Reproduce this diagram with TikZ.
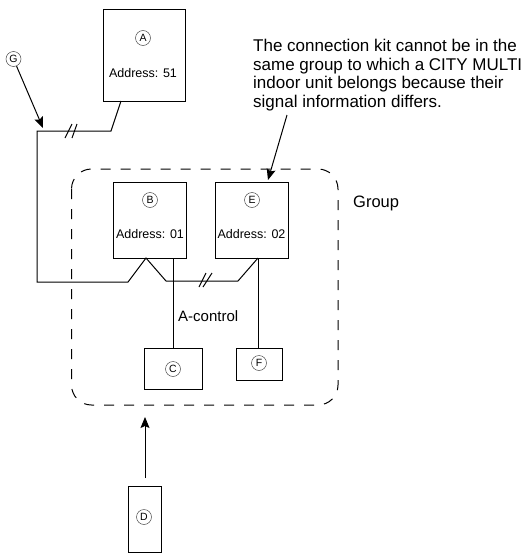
\documentclass[tikz,border=0pt]{standalone}
\usepackage{fontspec}
\setmainfont{Liberation Sans}
\usetikzlibrary{arrows.meta}
\tikzset{
	unit/.style={draw,line width=1pt,inner sep=0pt},
	letter/.style={draw=black!70,circle,line width=0.5pt,inner sep=0pt,minimum size=15pt,font=\fontsize{10.5}{10.5}\selectfont},
	tag/.style={font=\fontsize{12.5}{12.5}\selectfont,inner sep=0pt},
	wire/.style={line width=1pt},
	pointer/.style={line width=1pt,-{Stealth[length=11pt,width=9pt,inset=2pt]}}
}
\begin{document}
\begin{tikzpicture}[x=1pt,y=-1pt]
	\useasboundingbox (0,0) rectangle (529,554);

	\node[unit,minimum width=82pt,minimum height=92pt] (boxA) at (144,55) {};
	\node[unit,minimum width=73pt,minimum height=76pt] (boxB) at (149.5,220) {};
	\node[unit,minimum width=73pt,minimum height=76pt] (boxE) at (251.5,220) {};
	\node[unit,minimum width=58pt,minimum height=41pt] (boxC) at (173,368.5) {};
	\node[unit,minimum width=46pt,minimum height=32pt] (boxF) at (259,364) {};
	\node[unit,minimum width=33pt,minimum height=66pt] (boxD) at (144.5,519) {};

	\node[letter] (letterA) at (143,38) {A};
	\node[letter] (letterB) at (150,200) {B};
	\node[letter] (letterE) at (252,200) {E};
	\node[letter] (letterC) at (173,369) {C};
	\node[letter] (letterF) at (259,363) {F};
	\node[letter] (letterD) at (144,517) {D};
	\node[letter] (letterG) at (13.5,59) {G};

	\node[tag] (addrA) at (143,73) {Address: 51};
	\node[tag] (addrB) at (150,234) {Address: 01};
	\node[tag] (addrE) at (251.5,234) {Address: 02};
	\node[tag,font=\fontsize{15}{15}\selectfont,anchor=west] (control) at (178,316) {A-control};
	\node[tag,font=\fontsize{16.5}{16.5}\selectfont,anchor=west] (group) at (353,203) {Group};
	\node[tag,font=\fontsize{17}{18.5}\selectfont,anchor=north west,align=left] (note) at (253,39) {The connection kit cannot be in the\\same group to which a CITY MULTI\\indoor unit belongs because their\\signal information differs.};

	\draw[dash pattern=on 10pt off 10pt,line width=1pt,rounded corners=20pt] (71.5,169) rectangle (338,405);

	\coordinate (wireA) at (121,101);
	\coordinate (turnA) at (111,131);
	\coordinate (turnL) at (37,131);
	\coordinate (turnB) at (37,282);
	\coordinate (kneeB) at (128,282);
	\coordinate (tapB) at (146,258);
	\coordinate (kneeM) at (166,281);
	\coordinate (kneeE) at (238,281);
	\coordinate (tapE) at (258,258);
	\coordinate (footE) at (258,348);
	\coordinate (tapC) at (173,258);
	\draw[wire] (wireA) -- (turnA) -- (turnL) -- (turnB) -- (kneeB) -- (tapB) -- (kneeM) -- (kneeE) -- (tapE);

	\draw[wire] (65,138) -- (72,124);
	\draw[wire] (72,138) -- (77,124);
	\draw[wire] (199,287) -- (206,273);
	\draw[wire] (203,287) -- (212,273);

	\draw[wire] (tapC) -- (boxC.north);
	\draw[wire] (tapE) -- (footE);

	\coordinate (tipG) at (43,128);
	\coordinate (tipE) at (268,180);
	\coordinate (tailE) at (287,115);
	\coordinate (tipD) at (145,417);
	\coordinate (tailD) at (145,478);
	\draw[pointer] (letterG) -- (tipG);
	\draw[pointer] (tailE) -- (tipE);
	\draw[pointer] (tailD) -- (tipD);
\end{tikzpicture}
\end{document}
